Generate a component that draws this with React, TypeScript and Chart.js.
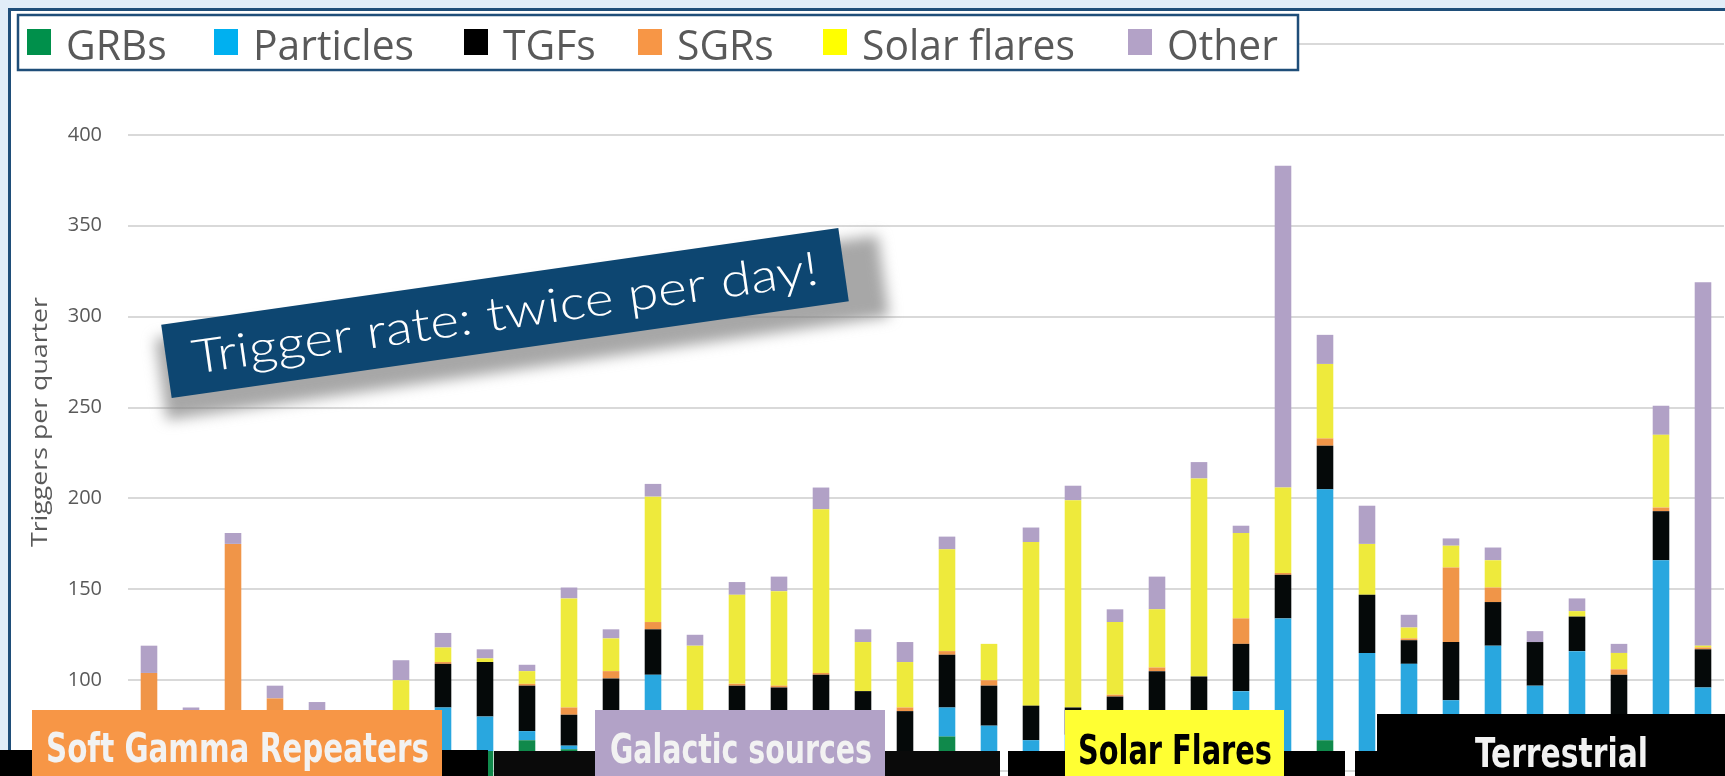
import React, { useEffect, useRef } from "react";
import { Chart, registerables } from "chart.js";

Chart.register(...registerables);

// ---- data ----
const quarters = [
  "2008 Q3", "2008 Q4",
  "2009 Q1", "2009 Q2", "2009 Q3", "2009 Q4",
  "2010 Q1", "2010 Q2", "2010 Q3", "2010 Q4",
  "2011 Q1", "2011 Q2", "2011 Q3", "2011 Q4",
  "2012 Q1", "2012 Q2", "2012 Q3", "2012 Q4",
  "2013 Q1", "2013 Q2", "2013 Q3", "2013 Q4",
  "2014 Q1", "2014 Q2", "2014 Q3", "2014 Q4",
  "2015 Q1", "2015 Q2", "2015 Q3", "2015 Q4",
  "2016 Q1", "2016 Q2", "2016 Q3", "2016 Q4",
  "2017 Q1", "2017 Q2", "2017 Q3", "2017 Q4",
];

const grbs = [60, 55, 55, 55, 55, 55, 55, 60, 61, 67, 62, 58, 60, 58, 58, 58, 58, 58, 55, 69, 58, 58, 58, 58, 58, 58, 60, 60, 67, 58, 58, 58, 58, 58, 58, 58, 58, 58];
const particles = [5, 10, 8, 10, 12, 12, 15, 25, 19, 5, 2, 12, 43, 12, 10, 10, 10, 10, 5, 16, 17, 9, 12, 12, 14, 14, 34, 74, 138, 57, 51, 31, 61, 39, 58, 20, 108, 38];
const tgfs = [0, 0, 0, 0, 0, 0, 5, 24, 30, 25, 17, 31, 25, 10, 29, 28, 35, 26, 23, 29, 22, 19, 15, 21, 33, 30, 26, 24, 24, 32, 13, 32, 24, 24, 19, 25, 27, 21];
const sgrs = [39, 18, 112, 25, 15, 5, 0, 1, 0, 1, 4, 4, 4, 0, 1, 1, 1, 0, 2, 2, 3, 0, 0, 1, 2, 0, 14, 1, 4, 0, 1, 41, 8, 0, 0, 3, 2, 1];
const solarFlares = [0, 0, 0, 0, 0, 2, 25, 8, 2, 7, 60, 18, 69, 39, 49, 52, 90, 27, 25, 56, 20, 90, 114, 40, 32, 109, 47, 47, 41, 28, 6, 12, 15, 0, 3, 9, 40, 1];
const other = [15, 2, 6, 7, 6, 6, 11, 8, 5, 3.5, 6, 5, 7, 6, 7, 8, 12, 7, 11, 7, 0, 8, 8, 7, 18, 9, 4, 177, 16, 21, 7, 4, 7, 6, 7, 5, 16, 200];

const seriesNames = ["GRBs", "Particles", "TGFs", "SGRs", "Solar flares", "Other"];
const barColors = ["#10894b", "#29a7df", "#050909", "#f09548", "#eeea3c", "#b1a1c6"];
const legendColors = ["#00904b", "#00b0f0", "#000000", "#f79646", "#ffff00", "#b3a2c7"];
const legendSwatchX = [27, 214, 464, 638, 823, 1128];

const yMin = 0;
const yMax = 450;
const yStep = 50;
const yTitle = "Triggers per quarter";
const calloutText = "Trigger rate: twice per day!";
const regionLabels = ["Soft Gamma Repeaters", "Galactic sources", "Solar Flares", "Terrestrial"];

// ---- helpers ----
function fitText(ctx: CanvasRenderingContext2D, text: string, x: number, y: number, width: number, font: string, color: string) {
  ctx.save();
  ctx.font = font;
  ctx.fillStyle = color;
  ctx.textAlign = "left";
  ctx.textBaseline = "alphabetic";
  const w = ctx.measureText(text).width || 1;
  ctx.translate(x, y);
  ctx.scale(width / w, 1);
  ctx.fillText(text, 0, 0);
  ctx.restore();
}

const overlayPlugin = {
  id: "overlay",
  afterDraw(chart: any) {
    const ctx: CanvasRenderingContext2D = chart.ctx;

    // y axis title
    ctx.save();
    ctx.translate(39, 422);
    ctx.rotate(-Math.PI / 2);
    fitText(ctx, yTitle, -125, 8, 250, '22px "Open Sans"', "#595959");
    ctx.restore();

    // legend box
    ctx.save();
    ctx.fillStyle = "#ffffff";
    ctx.fillRect(18, 15, 1280, 55);
    ctx.strokeStyle = "#1f4e79";
    ctx.lineWidth = 2.5;
    ctx.strokeRect(18, 15, 1280, 55);
    const lf = '42px "Open Sans"';
    ctx.font = lf;
    const sx = 161 / ctx.measureText("Particles").width;
    seriesNames.forEach((name, i) => {
      const x = legendSwatchX[i];
      ctx.fillStyle = legendColors[i];
      ctx.fillRect(x, 29, 24, 26);
      ctx.font = lf;
      const tw = ctx.measureText(name).width * sx;
      fitText(ctx, name, x + 39, 59.5, tw, lf, "#595959");
    });
    ctx.restore();

    // callout with shadow
    ctx.save();
    ctx.translate(505, 313);
    ctx.rotate((-8.15 * Math.PI) / 180);
    ctx.save();
    ctx.filter = "blur(7px)";
    ctx.fillStyle = "rgba(130,130,130,0.7)";
    ctx.fillRect(-350, -24, 730, 82);
    ctx.restore();
    ctx.fillStyle = "#0d4671";
    ctx.fillRect(-342, -37, 684, 74);
    fitText(ctx, calloutText, -316, 16, 632, '300 47px Lato, "Open Sans"', "#ffffff");
    ctx.restore();

    // bottom region labels
    const labelFont = 'bold 41px "DejaVu Sans Condensed", "DejaVu Sans"';
    const blocks = [
      { x: 0, y: 750, w: 32, h: 30, c: "#000000" },
      { x: 32, y: 710, w: 410, h: 70, c: "#f79646", t: 0, tx: 46, tw: 383, ty: 762, tc: "#f2f2f2" },
      { x: 442, y: 750, w: 46, h: 30, c: "#000000" },
      { x: 494, y: 751, w: 101, h: 30, c: "#0a0a0a" },
      { x: 595, y: 710, w: 290, h: 70, c: "#b2a2c7", t: 1, tx: 610, tw: 262, ty: 763, tc: "#f2f2f2" },
      { x: 885, y: 751, w: 115, h: 30, c: "#0a0a0a" },
      { x: 1008, y: 751, w: 57, h: 30, c: "#000000" },
      { x: 1065, y: 710, w: 219, h: 70, c: "#ffff33", t: 2, tx: 1078, tw: 194, ty: 764, tc: "#000000" },
      { x: 1284, y: 751, w: 61, h: 30, c: "#000000" },
      { x: 1355, y: 751, w: 22, h: 30, c: "#000000" },
      { x: 1377, y: 714, w: 348, h: 66, c: "#000000", t: 3, tx: 1475, tw: 173, ty: 767, tc: "#f2f2f2" },
    ];
    blocks.forEach((b: any) => {
      ctx.fillStyle = b.c;
      ctx.fillRect(b.x, b.y, b.w, b.h);
      if (b.t !== undefined) {
        fitText(ctx, regionLabels[b.t], b.tx, b.ty, b.tw, labelFont, b.tc);
      }
    });
  },
};

export default function App() {
  const canvasRef = useRef<HTMLCanvasElement | null>(null);

  useEffect(() => {
    document.body.style.margin = "0";
    const canvas = canvasRef.current;
    if (!canvas) return;
    const series = [grbs, particles, tgfs, sgrs, solarFlares, other];
    const chart = new Chart(canvas, {
      type: "bar",
      data: {
        labels: quarters,
        datasets: series.map((d, i) => ({
          label: seriesNames[i],
          data: d,
          backgroundColor: barColors[i],
          borderWidth: 0,
          barPercentage: 0.395,
          categoryPercentage: 1,
        })),
      },
      options: {
        responsive: false,
        animation: false,
        devicePixelRatio: 1,
        layout: { padding: { left: 0, right: 1, top: 44, bottom: 36 } },
        plugins: {
          legend: { display: false },
          tooltip: { enabled: false },
          title: { display: false },
        },
        scales: {
          x: {
            stacked: true,
            display: false,
          },
          y: {
            stacked: true,
            min: yMin,
            max: yMax,
            border: { display: false },
            grid: { color: "#d9d9d9", lineWidth: 2, drawTicks: false },
            ticks: {
              stepSize: yStep,
              padding: 26,
              color: "#595959",
              font: { family: '"Open Sans"', size: 20 },
            },
            afterFit: (scale: any) => {
              scale.width = 128;
            },
          },
        },
      },
      plugins: [overlayPlugin],
    });
    return () => chart.destroy();
  }, []);

  return (
    <div
      style={{
        position: "fixed",
        left: 0,
        top: 0,
        width: 1725,
        height: 776,
        overflow: "hidden",
        background: "#e1edf8",
      }}
    >
      <div
        style={{
          position: "absolute",
          left: 8,
          top: 8,
          width: 1717,
          height: 768,
          background: "#ffffff",
          borderLeft: "3px solid #1f4e79",
          borderTop: "3px solid #1f4e79",
          boxSizing: "border-box",
        }}
      />
      <canvas
        ref={canvasRef}
        width={1725}
        height={900}
        style={{ position: "absolute", left: 0, top: 0, width: 1725, height: 900 }}
      />
    </div>
  );
}
